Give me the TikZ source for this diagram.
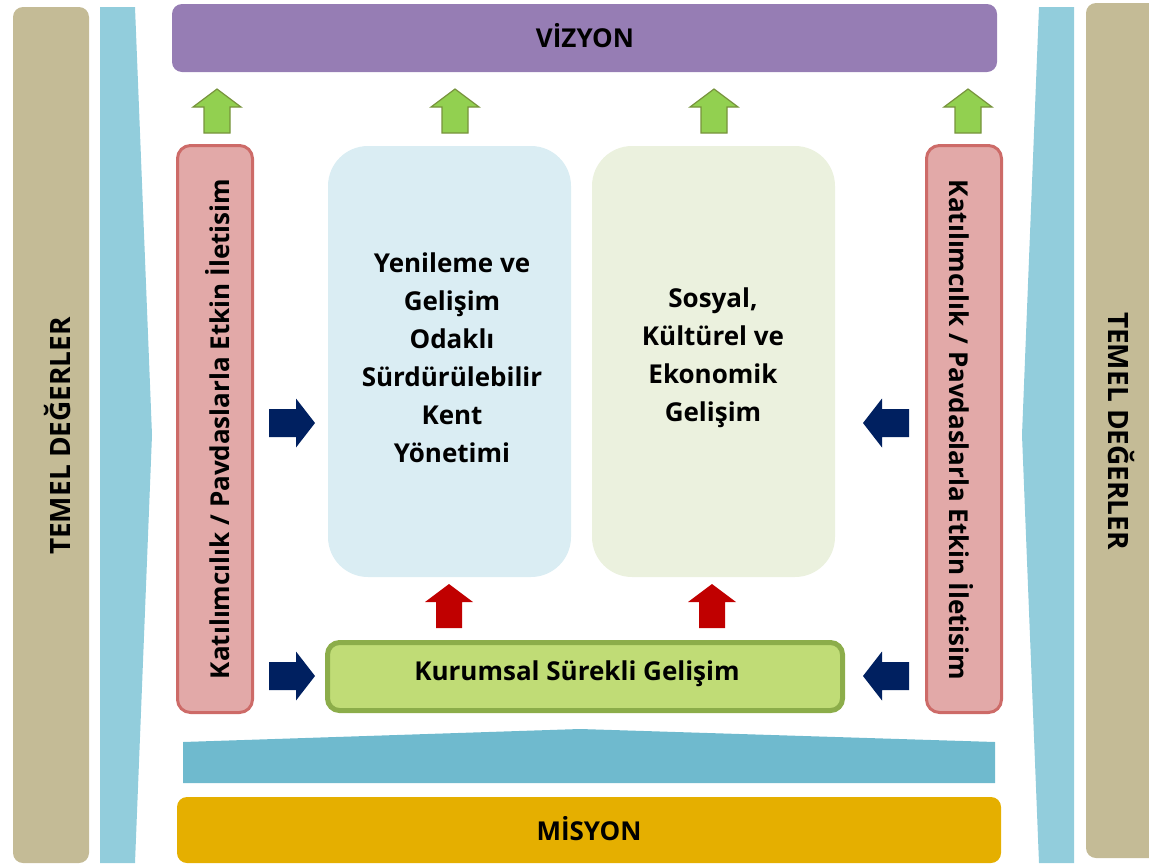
\documentclass[tikz,border=0pt]{standalone}
\usepackage{fontspec}
\setmainfont{Open Sans}
\begin{document}
\begin{tikzpicture}[x=1pt,y=-1pt,
  lbl/.style={font=\bfseries\fontsize{26}{38}\selectfont, text=black, align=center, inner sep=0pt},
  biglbl/.style={lbl, font=\bfseries\fontsize{28}{38}\selectfont},
  uparrow/.pic={\path[pic actions] (0,0)--(24,18)--(13,18)--(13,44)--(-13,44)--(-13,18)--(-24,18)--cycle;},
  rarrow/.pic={\path[pic actions] (0,0)--(-19,-24.5)--(-19,-14)--(-46,-14)--(-46,14)--(-19,14)--(-19,24.5)--cycle;},
  greenarr/.style={fill=arrgreen, draw=arrgreenb, line width=1.2pt},
  redarr/.style={fill=arrred},
  navyarr/.style={fill=navy},
]
\definecolor{beige}{HTML}{C4BB96}
\definecolor{pillar}{HTML}{92CDDC}
\definecolor{base}{HTML}{6FBACE}
\definecolor{purple}{HTML}{967DB4}
\definecolor{pinkf}{HTML}{E2A9A8}
\definecolor{pinkb}{HTML}{CD6B68}
\definecolor{lblue}{HTML}{DAEDF3}
\definecolor{lgreen}{HTML}{EBF1DE}
\definecolor{kgreen}{HTML}{C0DC76}
\definecolor{kgreenb}{HTML}{8CAD4A}
\definecolor{mision}{HTML}{E5AF00}
\definecolor{arrgreen}{HTML}{92D050}
\definecolor{arrgreenb}{HTML}{77933C}
\definecolor{arrred}{HTML}{C00000}
\definecolor{navy}{HTML}{002060}
\useasboundingbox (0,0) rectangle (1149,865);
\begin{scope}
\clip (0,0) rectangle (1149,865);
% outer beige columns
\path[fill=beige, rounded corners=10pt] (13,7) rectangle (89,863);
\path[fill=beige, rounded corners=10pt] (1086,3) rectangle (1170,858);
\end{scope}
% pillars
\path[fill=pillar] (100,7)--(135,7)--(152,435)--(135,863)--(100,863)--cycle;
\path[fill=pillar] (1074,7)--(1039,7)--(1022,435)--(1039,863)--(1074,863)--cycle;
% base trapezoid
\path[fill=base] (183,742)--(580,729)--(995,742)--(995,783)--(183,783)--cycle;
% vision / mission
\path[fill=purple, rounded corners=10pt] (172,4) rectangle (997,72);
\node[lbl] (vizyon) at (585,36) {VİZYON};
\path[fill=mision, rounded corners=10pt] (177,797) rectangle (1001,863);
\node[lbl] (misyon) at (589,829) {MİSYON};
% side pink boxes
\path[fill=pinkf, draw=pinkb, line width=3pt, rounded corners=13pt] (177.5,145.5) rectangle (252.5,712.5);
\path[fill=pinkf, draw=pinkb, line width=3pt, rounded corners=13pt] (926.5,145.5) rectangle (1001.5,712.5);
\node[lbl, rotate=90] (katl) at (218,429) {Katılımcılık / Pavdaslarla Etkin İletisim};
\node[lbl, rotate=-90] (katr) at (961,430) {Katılımcılık / Pavdaslarla Etkin İletisim};
% temel degerler
\node[biglbl, rotate=90] (temell) at (58,436) {TEMEL DEĞERLER};
\node[biglbl, rotate=-90] (temelr) at (1121,431) {TEMEL DEĞERLER};
% central boxes
\path[fill=lblue, rounded corners=40pt] (328,146) rectangle (571,577);
\node[lbl] (yen) at (452,358) {Yenileme ve\\Gelişim\\Odaklı\\Sürdürülebilir\\Kent\\Yönetimi};
\path[fill=lgreen, rounded corners=40pt] (592,146) rectangle (835,577);
\node[lbl] (sos) at (713,358) {Sosyal,\\Kültürel ve\\Ekonomik\\Gelişim};
% kurumsal
\path[fill=kgreen, draw=kgreenb, line width=5pt, rounded corners=12pt] (327.5,642.5) rectangle (842.5,710.5);
\node[lbl] (kur) at (577,674) {Kurumsal Sürekli Gelişim};
% green arrows to vision
\pic[greenarr] at (217,89) {uparrow};
\pic[greenarr] at (455,89) {uparrow};
\pic[greenarr] at (714,89) {uparrow};
\pic[greenarr] at (968,89) {uparrow};
% red arrows
\pic[redarr] at (449,584) {uparrow};
\pic[redarr] at (712,584) {uparrow};
% navy arrows
\pic[navyarr] at (315,423) {rarrow};
\pic[navyarr] at (315,676) {rarrow};
\pic[navyarr, xscale=-1] at (863,423) {rarrow};
\pic[navyarr, xscale=-1] at (863,676) {rarrow};
\end{tikzpicture}
\end{document}
